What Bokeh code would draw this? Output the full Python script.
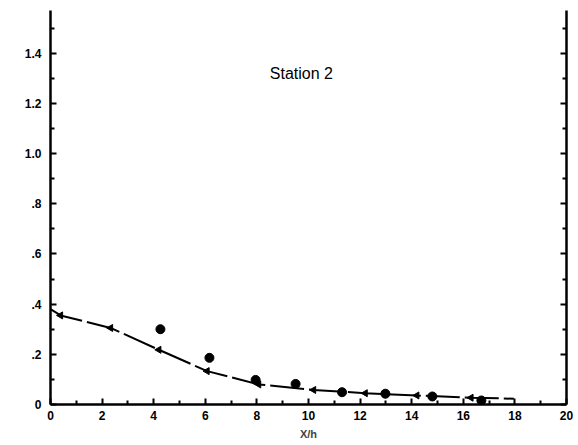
import numpy as np
from bokeh.plotting import figure
from bokeh.models import LinearAxis, FixedTicker, Range1d, Label
from bokeh.embed import file_html
from bokeh.resources import INLINE

# Data
line_x = [0.0, 0.39, 2.33, 4.2, 6.07, 8.07, 10.2, 12.2, 14.2, 16.3, 17.96]
line_y = [0.38, 0.355, 0.305, 0.218, 0.133, 0.08, 0.058, 0.045, 0.036, 0.027, 0.023]
tri_x = [0.39, 2.33, 4.2, 6.07, 8.07, 10.2, 12.2, 14.2, 16.3]
tri_y = [0.355, 0.305, 0.218, 0.133, 0.08, 0.058, 0.045, 0.036, 0.027]
dot_x = [4.26, 6.16, 7.95, 9.5, 11.3, 12.98, 14.8, 16.7]
dot_y = [0.30, 0.186, 0.098, 0.082, 0.049, 0.043, 0.032, 0.016]

x_ticks = [0, 2, 4, 6, 8, 10, 12, 14, 16, 18, 20]
x_minor = [1, 3, 5, 7, 9, 11, 13, 15, 17, 19]
y_ticks = [0, 0.2, 0.4, 0.6, 0.8, 1.0, 1.2, 1.4]
y_minor = [0.1, 0.3, 0.5, 0.7, 0.9, 1.1, 1.3, 1.5]
y_labels = {0: "0", 0.2: ".2", 0.4: ".4", 0.6: ".6", 0.8: ".8", 1.0: "1.0", 1.2: "1.2", 1.4: "1.4"}

FONT = "Liberation Sans"

p = figure(width=578, height=445, output_backend="svg", toolbar_location=None,
           x_range=Range1d(0, 20), y_range=Range1d(0, 1.57),
           x_axis_location=None, y_axis_location=None,
           min_border_left=50, min_border_right=12, min_border_top=10, min_border_bottom=41)
p.frame_width = 516
p.frame_height = 394
p.outline_line_color = None
p.xgrid.visible = False
p.ygrid.visible = False
p.background_fill_color = "white"
p.border_fill_color = "white"

def style(ax, labels=True):
    ax.axis_line_width = 2.5
    ax.axis_line_color = "black"
    ax.major_tick_in = 6
    ax.major_tick_out = 0
    ax.minor_tick_in = 4
    ax.minor_tick_out = 0
    ax.major_tick_line_width = 2
    ax.minor_tick_line_width = 2
    ax.major_label_text_font = FONT
    ax.major_label_text_font_style = "bold"
    ax.major_label_text_font_size = "12px"
    ax.major_label_text_color = "black"
    if not labels:
        ax.major_label_text_alpha = 0

xb = LinearAxis(ticker=FixedTicker(ticks=x_ticks, minor_ticks=x_minor), axis_label="X/h")
style(xb)
xb.axis_label_text_font = FONT
xb.axis_label_text_font_style = "bold"
xb.axis_label_text_font_size = "11px"
xb.axis_label_standoff = 5
xb.major_label_standoff = 6
p.add_layout(xb, "below")

yl = LinearAxis(ticker=FixedTicker(ticks=y_ticks, minor_ticks=y_minor))
style(yl)
yl.major_label_overrides = y_labels
yl.major_label_standoff = 9
p.add_layout(yl, "left")

yr = LinearAxis(ticker=FixedTicker(ticks=y_ticks, minor_ticks=y_minor))
style(yr, labels=False)
p.add_layout(yr, "right")

p.line(line_x, line_y, line_color="black", line_width=2, line_dash="34 5")
p.scatter(tri_x, tri_y, marker="triangle", size=7, angle=np.pi / 2,
          fill_color="black", line_color="black")
p.scatter(dot_x, dot_y, marker="circle", size=9, fill_color="black", line_color="black")

p.add_layout(Label(x=8.5, y=1.32, text="Station 2", text_font=FONT, text_font_size="16px",
                   text_color="black", text_baseline="middle"))

open("out.html", "w").write(file_html(p, INLINE))
